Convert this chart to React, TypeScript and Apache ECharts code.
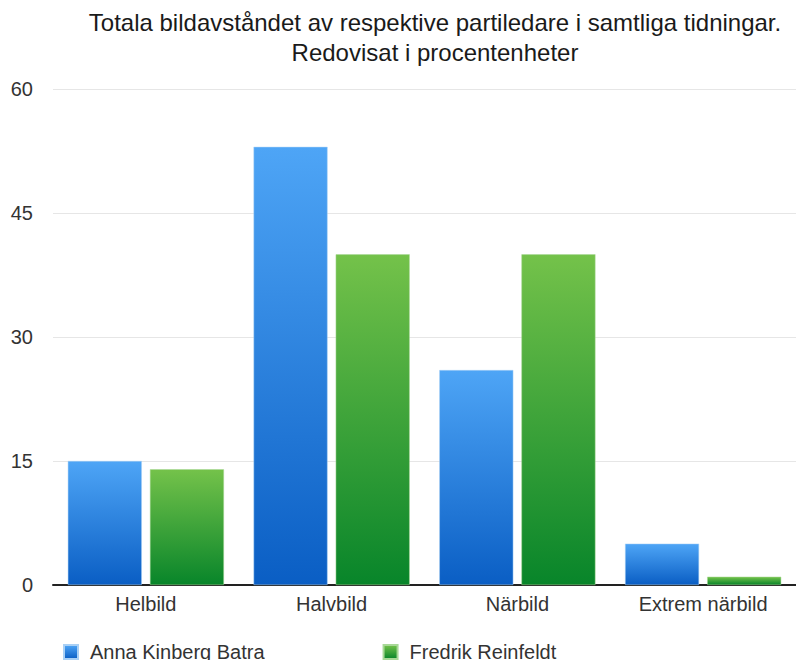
import React, { useEffect, useRef } from "react";
import * as echarts from "echarts";

const categories = ["Helbild", "Halvbild", "Närbild", "Extrem närbild"];
const annaValues = [15, 53, 26, 5];
const fredrikValues = [14, 40, 40, 1];
const seriesNames = ["Anna Kinberg Batra", "Fredrik Reinfeldt"];
const titleLines = [
  "Totala bildavståndet av respektive partiledare i samtliga tidningar.",
  "Redovisat i procentenheter",
];

export default function App() {
  const ref = useRef<HTMLDivElement>(null);
  useEffect(() => {
    if (!ref.current) return;
    const chart = echarts.init(ref.current, undefined, { renderer: "svg" });
    const font = "Liberation Sans, Arial, Helvetica, sans-serif";
    const blue = new echarts.graphic.LinearGradient(0, 0, 0, 1, [
      { offset: 0, color: "#4ea5f6" },
      { offset: 1, color: "#0a5ec4" },
    ]);
    const green = new echarts.graphic.LinearGradient(0, 0, 0, 1, [
      { offset: 0, color: "#74c24a" },
      { offset: 1, color: "#08852a" },
    ]);
    chart.setOption({
      animation: false,
      backgroundColor: "#ffffff",
      title: {
        text: titleLines.join("\n"),
        left: 430,
        textAlign: "center",
        top: 2,
        textStyle: {
          fontFamily: font,
          fontSize: 24,
          fontWeight: "normal",
          color: "#1a1a1a",
          lineHeight: 30,
        },
      },
      legend: {
        left: 58,
        top: 637,
        itemWidth: 14,
        itemHeight: 14,
        itemGap: 118,
        icon: "rect",
        textStyle: { fontFamily: font, fontSize: 20, color: "#333", padding: [0, 0, 0, 7] },
        data: seriesNames,
      },
      grid: { left: 53, top: 89, width: 747, height: 496 },
      xAxis: {
        type: "category",
        data: categories,
        axisLine: { lineStyle: { color: "#222", width: 2 } },
        axisTick: { show: false },
        axisLabel: { fontFamily: font, fontSize: 20, color: "#333", margin: 9 },
      },
      yAxis: {
        type: "value",
        min: 0,
        max: 60,
        interval: 15,
        axisLine: { show: false },
        axisTick: { show: false },
        axisLabel: { fontFamily: font, fontSize: 20, color: "#333", margin: 20 },
        splitLine: { lineStyle: { color: "#e6e6e6", width: 1 } },
      },
      series: [
        {
          name: seriesNames[0],
          type: "bar",
          data: annaValues,
          barWidth: 74,
          barGap: "11%",
          itemStyle: { color: blue, borderColor: "#a9d0f5", borderWidth: 0.5 },
        },
        {
          name: seriesNames[1],
          type: "bar",
          data: fredrikValues,
          barWidth: 74,
          barGap: "11%",
          itemStyle: { color: green, borderColor: "#a8d897", borderWidth: 0.5 },
        },
      ],
    });
    return () => chart.dispose();
  }, []);
  return (
    <div
      ref={ref}
      style={{ position: "fixed", left: 0, top: 0, width: 796, height: 660 }}
    />
  );
}
